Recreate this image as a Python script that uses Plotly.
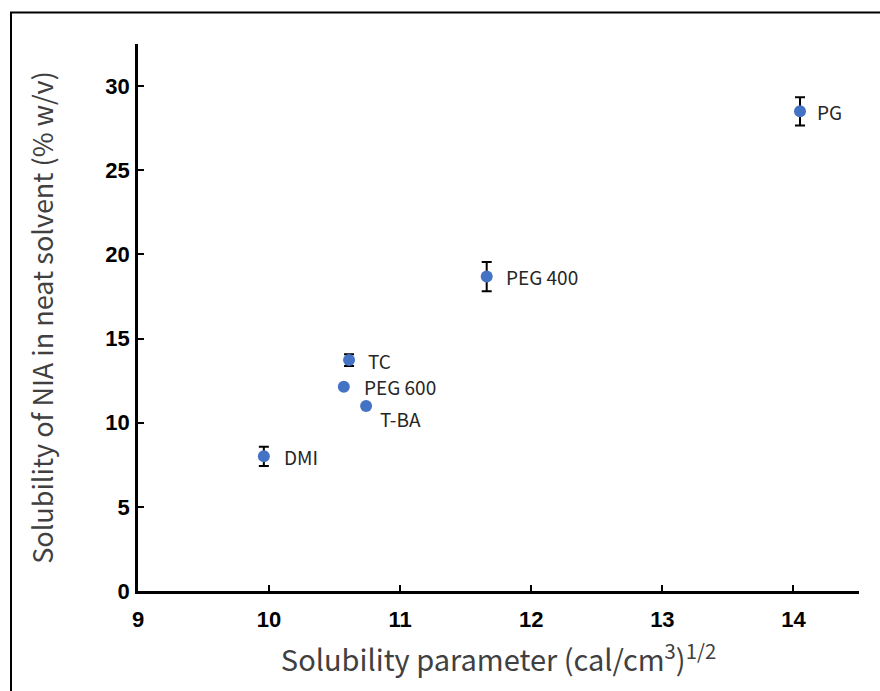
import plotly.graph_objects as go

solvents = ["DMI", "TC", "PEG 600", "T-BA", "PEG 400", "PG"]
solubility_parameter = [9.96, 10.61, 10.57, 10.74, 11.66, 14.05]
solubility = [8.0, 13.72, 12.14, 10.99, 18.68, 28.5]
solubility_sd = [0.57, 0.35, 0.0, 0.0, 0.87, 0.84]

# label offsets (pixels) per point
label_dx = [18, 17, 18, 12, 17, 15]
label_dy = [0, 0, 0, -12, 0, 0]

W, H = 880, 691
ML, MR, MT, MB = 138, 21, 44, 100
PW, PH = W - ML - MR, H - MT - MB

fig = go.Figure()
fig.add_trace(go.Scatter(
    x=solubility_parameter, y=solubility, mode="markers",
    marker=dict(color="#4472C4", size=12),
    error_y=dict(type="data", array=solubility_sd, visible=True,
                 color="black", thickness=2, width=5),
    showlegend=False, hoverinfo="x+y",
))

for s, x, y, dx, dy in zip(solvents, solubility_parameter, solubility, label_dx, label_dy):
    fig.add_annotation(x=x, y=y, text=s, showarrow=False, xanchor="left",
                       yanchor="middle", xshift=dx, yshift=dy,
                       font=dict(family="Noto Sans CJK SC", size=19, color="#262626"))

fig.update_layout(
    width=W, height=H,
    margin=dict(l=ML, r=MR, t=MT, b=MB, pad=0),
    paper_bgcolor="white", plot_bgcolor="white",
    xaxis=dict(range=[9, 14.5], tickvals=[9, 10, 11, 12, 13, 14],
               showgrid=False, zeroline=False, showline=True, linecolor="black",
               linewidth=2.5, ticks="inside", ticklen=6, tickwidth=2, tickcolor="black",
               tickfont=dict(family="Liberation Sans", size=22, color="black", weight="bold"),
               ticklabelstandoff=7,
               title=dict(text="Solubility parameter (cal/cm<sup>3</sup>)<sup>1/2</sup>",
                          font=dict(family="Noto Sans CJK SC", size=29, color="#404040"),
                          standoff=20)),
    yaxis=dict(range=[0, 32.5], tickvals=[0, 5, 10, 15, 20, 25, 30],
               showgrid=False, zeroline=False, showline=True, linecolor="black",
               linewidth=2.5, ticks="inside", ticklen=6, tickwidth=2, tickcolor="black",
               tickfont=dict(family="Liberation Sans", size=22, color="black", weight="bold"),
               ticklabelstandoff=1,
               title=dict(text="Solubility of NIA in neat solvent (% w/v)",
                          font=dict(family="Noto Sans CJK SC", size=27, color="#404040"),
                          standoff=44)),
)

# outer frame around the figure (left and top edges visible)
fig.add_shape(type="rect", xref="paper", yref="paper",
              x0=(11 - ML) / PW, x1=(W + 5 - ML) / PW,
              y0=-(H + 5 - MT - PH) / PH, y1=(H - MB - 12.5) / PH,
              line=dict(color="black", width=2), fillcolor="rgba(0,0,0,0)")

fig.write_html("out.html")
